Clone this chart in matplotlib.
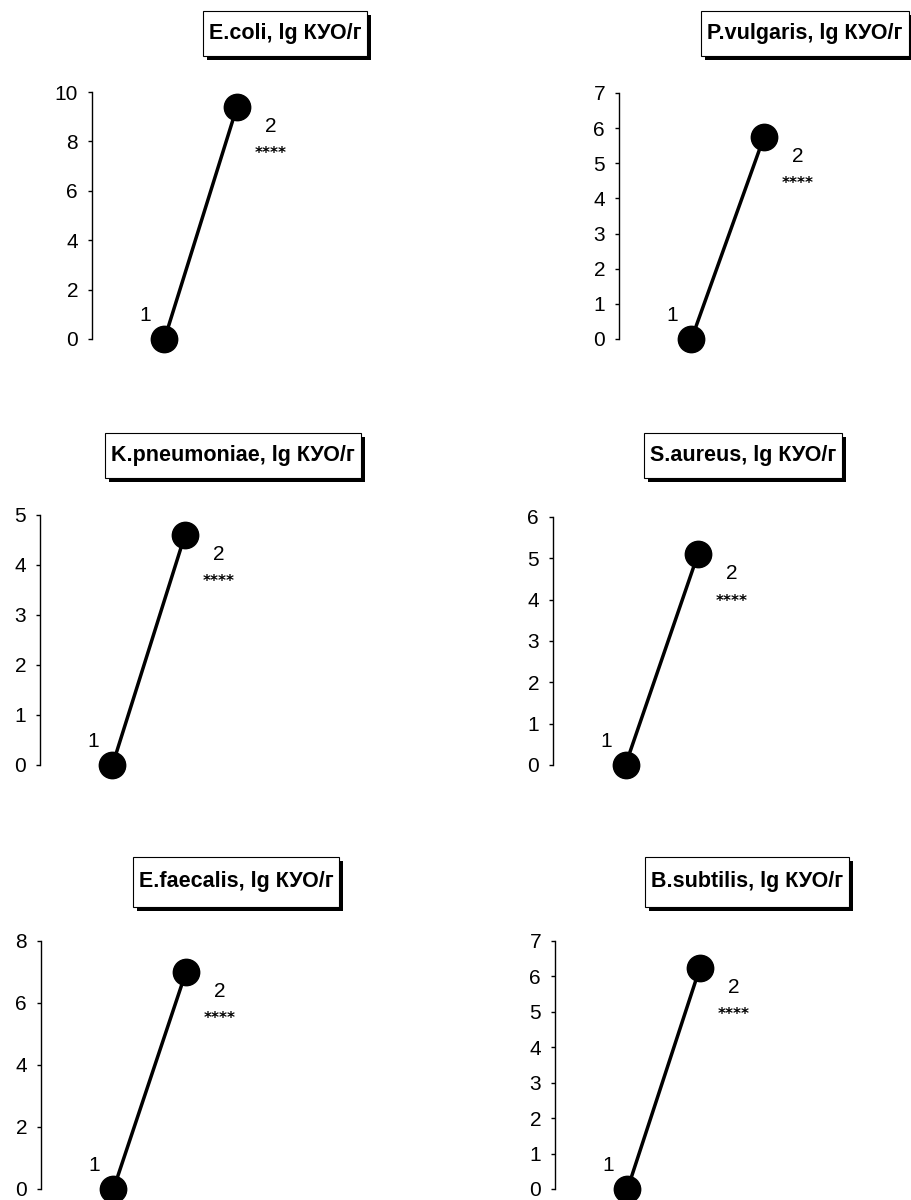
import matplotlib
matplotlib.use("Agg")
import matplotlib.pyplot as plt
from matplotlib.patches import Rectangle
import numpy as np

plt.rcParams['font.family'] = ['Liberation Sans', 'DejaVu Sans']

# data
titles = ["E.coli, lg КУО/г", "P.vulgaris, lg КУО/г", "K.pneumoniae, lg КУО/г",
          "S.aureus, lg КУО/г", "E.faecalis, lg КУО/г", "B.subtilis, lg КУО/г"]
point_labels = ["1", "2"]
before = [0, 0, 0, 0, 0, 0]
after = [9.4, 5.75, 4.6, 5.1, 7.0, 6.25]
ymax = [10, 7, 5, 6, 8, 7]
ystep = [2, 1, 1, 1, 2, 1]
signif = ["****"] * 6

W, H = 912, 1200
# layout in pixels: axis x, top (ymax), bottom (y=0), title box centre x, centre y
axis_x = [92, 619, 40, 553, 41, 555]
axis_top = [92, 93, 515, 517, 941, 941]
axis_bot = [339, 339, 765, 765, 1189, 1189]
box_cx = [285, 805, 233, 743, 236, 747]
box_cy = [33, 33, 455, 455, 882, 882]
box_h = [45, 45, 45, 45, 50, 50]

fig = plt.figure(figsize=(W / 100, H / 100), dpi=100)

for i in range(6):
    ax = fig.add_axes([axis_x[i] / W, 1 - axis_bot[i] / H, 290 / W,
                       (axis_bot[i] - axis_top[i]) / H])
    xs = [1, 2]
    ys = [before[i], after[i]]
    ax.plot(xs, ys, color='black', lw=2.5, marker='o', ms=19,
            mfc='black', mec='black', clip_on=False, zorder=3)
    ax.set_xlim(0, 4)
    ax.set_ylim(0, ymax[i])
    ax.set_yticks(np.arange(0, ymax[i] + 0.01, ystep[i]))
    for s in ['top', 'right', 'bottom']:
        ax.spines[s].set_visible(False)
    ax.spines['left'].set_linewidth(1.0)
    ax.set_xticks([])
    ax.tick_params(axis='y', length=3, width=1.0, pad=7, labelsize=15)
    ax.annotate(point_labels[0], (xs[0], ys[0]), xytext=(-14, 17),
                textcoords='offset points', ha='center', va='center', fontsize=15)
    ax.annotate(point_labels[1], (xs[1], ys[1]), xytext=(24, -14),
                textcoords='offset points', ha='center', va='center', fontsize=15)
    ax.annotate(signif[i], (xs[1], ys[1]), xytext=(24, -37),
                textcoords='offset points', ha='center', va='baseline',
                fontsize=11, fontweight='bold', family='DejaVu Sans')

    # boxed title with a black drop shadow
    t = fig.text(box_cx[i] / W, 1 - box_cy[i] / H, titles[i], ha='center',
                 va='center', fontsize=15.5, fontweight='bold', zorder=5)
    fig.canvas.draw()
    bb = t.get_window_extent()
    bw = bb.width + 12
    bh = box_h[i]
    x0 = box_cx[i] - bw / 2
    y0 = H - box_cy[i] - bh / 2
    fig.patches.append(Rectangle(((x0 + 4) / W, (y0 - 4) / H), bw / W, bh / H,
                                 transform=fig.transFigure, fc='black', ec='none',
                                 zorder=3))
    fig.patches.append(Rectangle((x0 / W, y0 / H), bw / W, bh / H,
                                 transform=fig.transFigure, fc='white', ec='black',
                                 lw=0.8, zorder=4))

fig.savefig("out.png", dpi=100)
